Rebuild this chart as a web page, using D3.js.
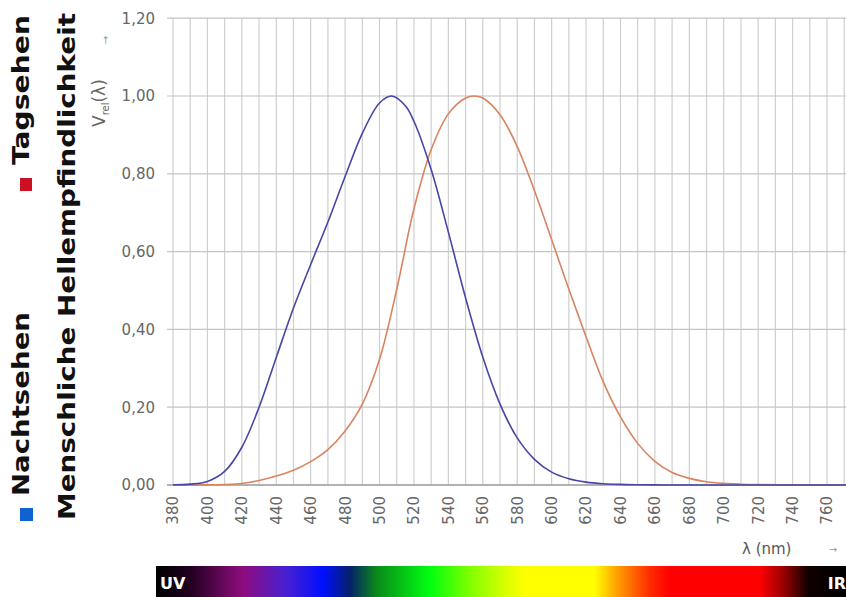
<!DOCTYPE html>
<html>
<head>
<meta charset="utf-8">
<script src="https://cdn.jsdelivr.net/npm/d3@7"></script>
<style>
  body { margin: 0; background: #fff; }
  svg { display: block; }
</style>
</head>
<body>
<div id="my_dataviz"></div>
<script>
// wavelengths (nm) and relative sensitivity
const scotWl = [380, 390, 400, 410, 420, 430, 440, 450, 460, 470, 480, 490, 500, 507, 515, 520, 530, 540, 550,
  560, 570, 580, 590, 600, 610, 620, 630, 640, 650, 660, 670, 680, 700, 720, 740, 760, 780];
const scotV = [0.0006, 0.0022, 0.0093, 0.035, 0.097, 0.200, 0.328, 0.455, 0.567, 0.676, 0.793, 0.904, 0.982, 1.0, 0.975, 0.935, 0.811, 0.650, 0.481,
  0.329, 0.208, 0.121, 0.066, 0.033, 0.016, 0.0074, 0.0033, 0.0015, 0.0007, 0.0003, 0.0001, 0.0001, 0, 0, 0, 0, 0];

const photWl = [380, 390, 400, 410, 420, 430, 440, 450, 460, 470, 480, 490, 500, 510, 520, 530, 540, 550, 555,
  560, 570, 580, 590, 600, 610, 620, 630, 640, 650, 660, 670, 680, 690, 700, 710, 720, 740, 760, 780];
const photV = [0.00004, 0.0001, 0.0004, 0.0012, 0.004, 0.0116, 0.023, 0.038, 0.060, 0.091, 0.139, 0.208, 0.323, 0.503, 0.710, 0.862, 0.954, 0.995, 1.0,
  0.995, 0.952, 0.870, 0.757, 0.631, 0.503, 0.381, 0.265, 0.175, 0.107, 0.061, 0.032, 0.017, 0.0082, 0.0041, 0.0021, 0.001, 0.0002, 0.00006, 0];

// axis ticks
const xTicks = [380, 400, 420, 440, 460, 480, 500, 520, 540, 560, 580, 600, 620, 640, 660, 680, 700, 720, 740, 760];
const xGrid = [380, 390, 400, 410, 420, 430, 440, 450, 460, 470, 480, 490, 500, 510, 520, 530, 540, 550, 560, 570,
  580, 590, 600, 610, 620, 630, 640, 650, 660, 670, 680, 690, 700, 710, 720, 730, 740, 750, 760, 770];
const yTicks = [0, 0.2, 0.4, 0.6, 0.8, 1.0, 1.2];

// spectrum bar colour stops
const specStops = [0, 0.049, 0.126, 0.187, 0.242, 0.281, 0.32, 0.397, 0.455, 0.506, 0.535, 0.635, 0.668, 0.716, 0.745, 0.875, 0.912, 0.945, 1];
const specColors = ["#000000", "#200020", "#8e0c7e", "#4a20d0", "#0010ff", "#05206a", "#0a8a1a", "#00ff10", "#80ff00", "#d8ff00",
  "#ffff00", "#ffff00", "#ffa000", "#ff2a00", "#ff0000", "#ff0000", "#900000", "#100000", "#000000"];

let W = 846, H = 597;

const svg = d3.select("#my_dataviz")
  .append("svg")
    .attr("width", W)
    .attr("height", H)

let x = d3.scaleLinear()
    .domain([380, 760])
    .range([173, 827]);

let y = d3.scaleLinear()
    .domain([0, 1.2])
    .range([485, 18.2]);

const gray = "#666";

// clip for the plot area
svg.append("clipPath")
    .attr("id", "plotclip")
  .append("rect")
    .attr("x", 172).attr("y", 10)
    .attr("width", W - 172).attr("height", 476)

// vertical grid every 10 nm
svg.append("g")
  .selectAll("line")
  .data(xGrid)
  .enter()
  .append("line")
    .attr("x1", d => x(d)).attr("x2", d => x(d))
    .attr("y1", y(1.2)).attr("y2", y(0))
    .attr("stroke", "#cfcfcf")
    .attr("stroke-width", 1.2)

// horizontal grid
svg.append("g")
  .selectAll("line")
  .data(yTicks)
  .enter()
  .append("line")
    .attr("x1", 167).attr("x2", W)
    .attr("y1", d => y(d)).attr("y2", d => y(d))
    .attr("stroke", d => d === 0 ? "#999" : "#c4c4c4")
    .attr("stroke-width", d => d === 0 ? 1.5 : 1.2)

// y tick labels
svg.append("g")
  .selectAll("text")
  .data(yTicks)
  .enter()
  .append("text")
    .attr("x", 155)
    .attr("y", d => y(d))
    .attr("dy", "0.36em")
    .attr("text-anchor", "end")
    .style("font-family", "DejaVu Sans")
    .style("font-size", "15px")
    .attr("fill", gray)
    .text(d => d3.format(".2f")(d).replace(".", ","))

// x tick labels, rotated
svg.append("g")
  .selectAll("text")
  .data(xTicks)
  .enter()
  .append("text")
    .attr("transform", d => "translate(" + x(d) + ",496)rotate(-90)")
    .attr("dy", "0.36em")
    .attr("text-anchor", "end")
    .style("font-family", "DejaVu Sans")
    .style("font-size", "15px")
    .attr("fill", gray)
    .text(d => d)

// curves
let line = d3.line()
    .x(d => x(d[0]))
    .y(d => y(Math.max(0, d[1])))
    .curve(d3.curveCatmullRom.alpha(0.5))

const curves = svg.append("g").attr("clip-path", "url(#plotclip)")

curves.append("path")
    .datum(photWl.map((w, i) => [w, photV[i]]))
    .attr("d", line)
    .attr("fill", "none")
    .attr("stroke", "#d9835f")
    .attr("stroke-width", 1.6)

curves.append("path")
    .datum(scotWl.map((w, i) => [w, scotV[i]]))
    .attr("d", line)
    .attr("fill", "none")
    .attr("stroke", "#4646a6")
    .attr("stroke-width", 1.6)

// y axis title: V_rel(λ) with arrow
let yt = svg.append("text")
    .attr("transform", "translate(105,127)rotate(-90)")
    .style("font-family", "DejaVu Sans")
    .style("font-size", "17px")
    .attr("fill", gray)
yt.append("tspan").text("V")
yt.append("tspan").attr("dy", 4).style("font-size", "10px").text("rel")
yt.append("tspan").attr("dy", -4).text("(λ)")

svg.append("text")
    .attr("transform", "translate(109,40)rotate(-90)")
    .attr("text-anchor", "middle")
    .style("font-family", "DejaVu Sans")
    .style("font-size", "10px")
    .attr("fill", "#999")
    .text("→")

// x axis title
svg.append("text")
    .attr("x", 742).attr("y", 554)
    .style("font-family", "DejaVu Sans")
    .style("font-size", "15px")
    .attr("fill", "#555")
    .text("λ (nm)")

svg.append("text")
    .attr("x", 833).attr("y", 553)
    .attr("text-anchor", "middle")
    .style("font-family", "DejaVu Sans")
    .style("font-size", "10px")
    .attr("fill", "#999")
    .text("→")

// spectrum bar
let grad = svg.append("defs")
  .append("linearGradient")
    .attr("id", "spectrum")
    .attr("x1", "0%").attr("x2", "100%")
    .attr("y1", "0%").attr("y2", "0%")

grad.selectAll("stop")
  .data(specStops)
  .enter()
  .append("stop")
    .attr("offset", d => d)
    .attr("stop-color", (d, i) => specColors[i])

svg.append("rect")
    .attr("x", 156).attr("y", 566)
    .attr("width", W - 156).attr("height", H - 566)
    .attr("fill", "url(#spectrum)")

svg.append("text")
    .attr("x", 160).attr("y", 589)
    .style("font-family", "DejaVu Sans")
    .style("font-weight", "bold")
    .style("font-size", "16px")
    .attr("fill", "#fff")
    .text("UV")

svg.append("text")
    .attr("x", 846).attr("y", 589)
    .attr("text-anchor", "end")
    .style("font-family", "DejaVu Sans")
    .style("font-weight", "bold")
    .style("font-size", "16px")
    .attr("fill", "#fff")
    .text("IR")

// legend / title on the left, rotated
const bold = { family: "DejaVu Sans", size: "23px" };

function vtext(bx, by, len, str) {
  svg.append("text")
      .attr("transform", "translate(" + bx + "," + by + ")rotate(-90)")
      .attr("textLength", len)
      .attr("lengthAdjust", "spacingAndGlyphs")
      .style("font-family", bold.family)
      .style("font-weight", "bold")
      .style("font-size", bold.size)
      .attr("fill", "#111")
      .text(str)
}

vtext(29, 165, 150, "Tagsehen")
vtext(29, 496, 184, "Nachtsehen")
vtext(75, 520, 507, "Menschliche Hellempfindlichkeit")

svg.append("rect")
    .attr("x", 20).attr("y", 178)
    .attr("width", 12).attr("height", 13)
    .attr("fill", "#cc1123")

svg.append("rect")
    .attr("x", 20).attr("y", 508)
    .attr("width", 13).attr("height", 13)
    .attr("fill", "#1062d2")
</script>
</body>
</html>
